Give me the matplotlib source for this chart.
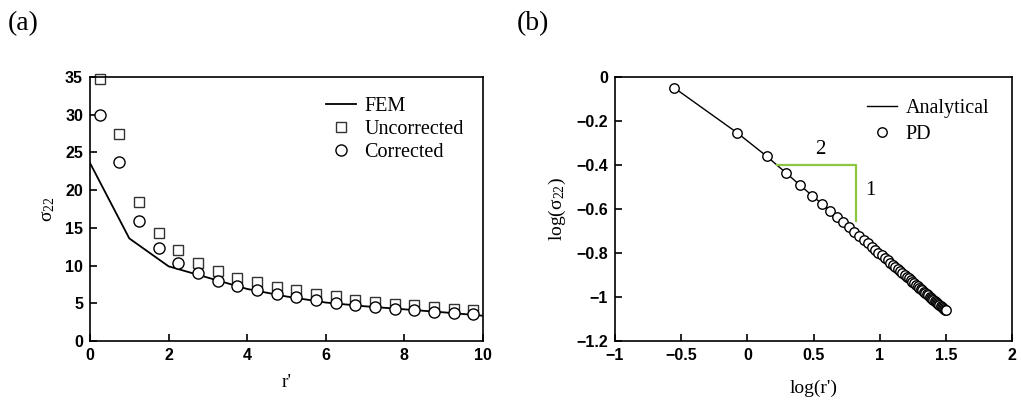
import matplotlib
matplotlib.use("Agg")
import matplotlib.pyplot as plt

# panel (a): stress along r'
r_pts = [0.25, 0.75, 1.25, 1.75, 2.25, 2.75, 3.25, 3.75, 4.25, 4.75,
         5.25, 5.75, 6.25, 6.75, 7.25, 7.75, 8.25, 8.75, 9.25, 9.75]
uncorrected = [34.7, 27.5, 18.4, 14.3, 12.0, 10.4, 9.3, 8.4, 7.8, 7.2,
               6.7, 6.2, 5.9, 5.5, 5.2, 4.9, 4.8, 4.5, 4.2, 4.1]
corrected = [29.9, 23.7, 15.9, 12.3, 10.3, 9.0, 8.0, 7.3, 6.7, 6.2,
             5.8, 5.4, 5.1, 4.8, 4.5, 4.3, 4.1, 3.8, 3.7, 3.6]
fem_r = [0, 1, 2, 3, 4, 5, 6, 7, 8, 9, 10]
fem_s = [23.6, 13.6, 9.9, 8.4, 6.9, 5.9, 5.1, 4.6, 4.2, 3.8, 3.35]

# panel (b): log-log
log_r = [-0.553, -0.076, 0.146, 0.292, 0.401, 0.489, 0.561, 0.623, 0.678, 0.726,
         0.769, 0.809, 0.845, 0.879, 0.910, 0.939, 0.966, 0.991, 1.015, 1.038,
         1.060, 1.081, 1.100, 1.119, 1.137, 1.155, 1.172, 1.188, 1.203, 1.218,
         1.233, 1.247, 1.260, 1.273, 1.286, 1.299, 1.311, 1.322, 1.334, 1.345,
         1.356, 1.366, 1.377, 1.387, 1.397, 1.406, 1.416, 1.425, 1.434, 1.443,
         1.452, 1.460, 1.468, 1.477, 1.485, 1.493, 1.500]
log_s = [-0.049, -0.254, -0.360, -0.436, -0.493, -0.539, -0.575, -0.607, -0.636, -0.660,
         -0.683, -0.703, -0.722, -0.740, -0.756, -0.771, -0.785, -0.798, -0.810, -0.822,
         -0.834, -0.844, -0.854, -0.864, -0.873, -0.883, -0.892, -0.900, -0.908, -0.915,
         -0.923, -0.930, -0.937, -0.944, -0.951, -0.957, -0.963, -0.969, -0.975, -0.981,
         -0.987, -0.992, -0.998, -1.003, -1.008, -1.013, -1.018, -1.023, -1.027, -1.032,
         -1.037, -1.041, -1.045, -1.049, -1.054, -1.058, -1.061]

serif = "Liberation Serif"
sans = "Liberation Sans"

fig = plt.figure(figsize=(10.21, 4.03), dpi=100)
ax1 = fig.add_axes([90 / 1021, 62 / 403, 393 / 1021, 264 / 403])
ax2 = fig.add_axes([615 / 1021, 62 / 403, 397 / 1021, 264 / 403])

for ax in (ax1, ax2):
    for sp in ax.spines.values():
        sp.set_linewidth(1.2)
    ax.tick_params(direction="in", length=5, width=1.2, top=False, right=False, pad=5)

# (a)
ax1.plot(fem_r, fem_s, color="black", lw=1.3, label="FEM")
ax1.plot(r_pts, uncorrected, "s", ms=7.4, mfc="white", mec="#333333", mew=1.0,
         ls="none", label="Uncorrected", clip_on=False)
ax1.plot(r_pts, corrected, "o", ms=8.0, mfc="white", mec="black", mew=1.0,
         ls="none", label="Corrected", clip_on=False)
ax1.set_xlim(0, 10)
ax1.set_ylim(0, 35)
ax1.set_xticks([0, 2, 4, 6, 8, 10])
ax1.set_yticks([0, 5, 10, 15, 20, 25, 30, 35])
ax1.set_xlabel("r'", family=serif, fontsize=14, labelpad=8)
ax1.set_ylabel(r"$\mathregular{\sigma_{22}}$", family=serif, fontsize=14, labelpad=6)
ax1.legend(loc="upper left", bbox_to_anchor=(0.58, 0.955), frameon=False,
           prop={"family": serif, "size": 14.5}, handlelength=1.5,
           handletextpad=0.4, labelspacing=0.2, borderaxespad=0)

# (b)
ax2.plot(log_r, log_s, color="black", lw=1.0, label="Analytical")
ax2.plot(log_r, log_s, "o", ms=6.8, mfc="white", mec="black", mew=1.0,
         ls="none", label="PD")
ax2.plot([0.227, 0.819, 0.819], [-0.398, -0.398, -0.655], color="#8dc63f", lw=1.6)
ax2.text(0.55, -0.33, "2", family=serif, fontsize=15, ha="center", va="center")
ax2.text(0.93, -0.515, "1", family=serif, fontsize=15, ha="center", va="center")
ax2.set_xlim(-1, 2)
ax2.set_ylim(-1.2, 0)
ax2.set_xticks([-1, -0.5, 0, 0.5, 1, 1.5, 2])
ax2.set_xticklabels(["\u22121", "\u22120.5", "0", "0.5", "1", "1.5", "2"])
ax2.set_yticks([-1.2, -1, -0.8, -0.6, -0.4, -0.2, 0])
ax2.set_yticklabels(["\u22121.2", "\u22121", "\u22120.8", "\u22120.6", "\u22120.4", "\u22120.2", "0"])
ax2.set_xlabel("log(r')", family=serif, fontsize=14, labelpad=12)
ax2.set_ylabel(r"log($\mathregular{\sigma_{22}}$)", family=serif, fontsize=14, labelpad=6)
ax2.legend(loc="upper left", bbox_to_anchor=(0.615, 0.948), frameon=False,
           prop={"family": serif, "size": 14.5}, handlelength=1.5,
           handletextpad=0.4, labelspacing=0.35, borderaxespad=0)

for ax in (ax1, ax2):
    for lab in ax.get_xticklabels() + ax.get_yticklabels():
        lab.set_fontfamily(sans)
        lab.set_fontweight("bold")
        lab.set_fontsize(11.5)

fig.text(8 / 1021, 1 - 24 / 403, "(a)", family=serif, fontsize=20, va="center")
fig.text(517 / 1021, 1 - 24 / 403, "(b)", family=serif, fontsize=20, va="center")

fig.savefig("out.png", dpi=100)
